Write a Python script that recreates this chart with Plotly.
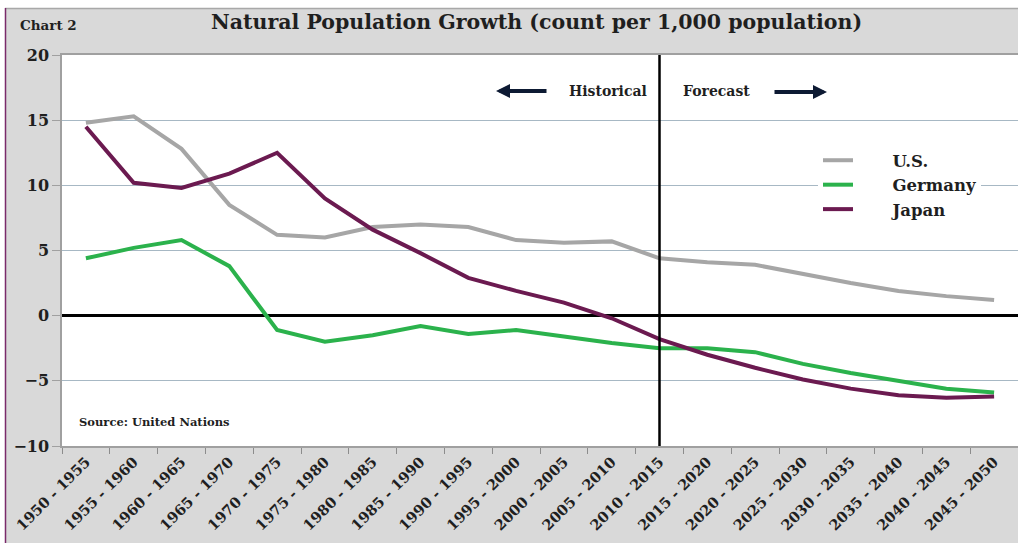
import plotly.graph_objects as go

periods = ["1950 - 1955", "1955 - 1960", "1960 - 1965", "1965 - 1970", "1970 - 1975",
           "1975 - 1980", "1980 - 1985", "1985 - 1990", "1990 - 1995", "1995 - 2000",
           "2000 - 2005", "2005 - 2010", "2010 - 2015", "2015 - 2020", "2020 - 2025",
           "2025 - 2030", "2030 - 2035", "2035 - 2040", "2040 - 2045", "2045 - 2050"]

us = [14.8, 15.3, 12.8, 8.5, 6.2, 6.0, 6.8, 7.0, 6.8, 5.8,
      5.6, 5.7, 4.4, 4.1, 3.9, 3.2, 2.5, 1.9, 1.5, 1.2]
germany = [4.4, 5.2, 5.8, 3.8, -1.1, -2.0, -1.5, -0.8, -1.4, -1.1,
           -1.6, -2.1, -2.5, -2.5, -2.8, -3.7, -4.4, -5.0, -5.6, -5.9]
japan = [14.5, 10.2, 9.8, 10.9, 12.5, 9.0, 6.6, 4.8, 2.9, 1.9,
         1.0, -0.2, -1.8, -3.0, -4.0, -4.9, -5.6, -6.1, -6.3, -6.2]

y_ticks = [-10, -5, 0, 5, 10, 15, 20]
forecast_start = "2010 - 2015"

FONT = "DejaVu Serif"
TXT = "#1f1f1f"
W, H = 1018, 543
L, R, T, B = 62, 0, 55, 97
pw, ph = W - L - R, H - T - B

def px_x(p):
    return (p - L) / pw

def px_y(p):
    return (H - B - p) / ph

fig = go.Figure()
series = [("U.S.", us, "#a6a6a6"), ("Germany", germany, "#2bb24c"), ("Japan", japan, "#6b1a50")]
for name, vals, col in series:
    fig.add_trace(go.Scatter(x=periods, y=vals, name="\u00a0" * 6 + name, mode="lines",
                             legendgroup=name,
                             line=dict(color=col, width=4)))

shapes = [
    dict(type="rect", xref="paper", yref="paper", x0=px_x(-5), x1=px_x(W + 5),
         y0=px_y(8), y1=px_y(-5), fillcolor="white", line=dict(width=0), layer="below"),
    dict(type="rect", xref="paper", yref="paper", x0=px_x(-5), x1=px_x(5),
         y0=px_y(H + 5), y1=px_y(-5), fillcolor="white", line=dict(width=0), layer="below"),
    dict(type="line", xref="paper", yref="paper", x0=px_x(5), x1=px_x(W + 5),
         y0=px_y(8.5), y1=px_y(8.5), line=dict(color="#a8a8a8", width=1.5)),
    dict(type="line", xref="paper", yref="paper", x0=px_x(5.5), x1=px_x(5.5),
         y0=px_y(8), y1=px_y(H + 5), line=dict(color="#7a2a6a", width=1.5)),
    dict(type="line", xref="x", yref="paper", x0=forecast_start, x1=forecast_start,
         y0=0, y1=1, line=dict(color="black", width=2.5)),
]

annotations = [
    dict(text="Natural Population Growth (count per 1,000 population)", xref="paper", yref="paper",
         x=px_x(536), y=px_y(22), showarrow=False,
         font=dict(family=FONT, size=20.5, color=TXT, weight="bold"),
         xanchor="center", yanchor="middle"),
    dict(text="Chart 2", xref="paper", yref="paper", x=px_x(18), y=px_y(25),
         showarrow=False, font=dict(family=FONT, size=13.5, color=TXT, weight="bold"),
         xanchor="left", yanchor="middle"),
    dict(text="Historical", xref="paper", yref="paper", x=px_x(608), y=px_y(91),
         showarrow=False, font=dict(family=FONT, size=14, color=TXT, weight="bold"),
         xanchor="center", yanchor="middle"),
    dict(text="Forecast", xref="paper", yref="paper", x=px_x(716), y=px_y(91),
         showarrow=False, font=dict(family=FONT, size=14, color=TXT, weight="bold"),
         xanchor="center", yanchor="middle"),
    dict(text="", xref="paper", yref="paper", x=px_x(496), y=px_y(91),
         ax=52, ay=0, axref="pixel", ayref="pixel",
         showarrow=True, arrowhead=2, arrowsize=0.7, arrowwidth=4, arrowcolor="#0d1a33"),
    dict(text="", xref="paper", yref="paper", x=px_x(827), y=px_y(92),
         ax=-54, ay=0, axref="pixel", ayref="pixel",
         showarrow=True, arrowhead=2, arrowsize=0.7, arrowwidth=4, arrowcolor="#0d1a33"),
    dict(text="Source: United Nations", xref="paper", yref="paper", x=px_x(77), y=px_y(422),
         showarrow=False, font=dict(family=FONT, size=11.5, color=TXT, weight="bold"),
         xanchor="left", yanchor="middle"),
]

fig.update_layout(
    width=W, height=H,
    margin=dict(l=L, r=R, t=T, b=B, pad=0),
    paper_bgcolor="#d9d9d9",
    plot_bgcolor="white",
    shapes=shapes,
    annotations=annotations,
    showlegend=True,
    legend=dict(x=px_x(818), y=px_y(143), xanchor="left", yanchor="top",
                bgcolor="white", font=dict(family=FONT, size=16.5, color=TXT, weight="bold"),
                itemwidth=30, tracegroupgap=2, borderwidth=0, traceorder="normal"),
    font=dict(family=FONT, color=TXT),
)

fig.update_xaxes(
    type="category", range=[-0.5, len(periods) - 0.5],
    tickangle=-45, tickfont=dict(family=FONT, size=14.5, color=TXT, weight="bold"),
    ticks="outside", ticklen=6, tickcolor="#8c8c8c", tickson="boundaries",
    showline=True, linecolor="#a0a0a0", linewidth=1.5, showgrid=False, mirror=True,
)
fig.update_yaxes(
    range=[-10, 20], tickvals=y_ticks,
    tickfont=dict(family=FONT, size=16, color=TXT, weight="bold"),
    ticks="outside", ticklen=8, tickcolor="#a0a0a0",
    showline=True, linecolor="#a0a0a0", linewidth=1.5,
    showgrid=True, gridcolor="#a7b8c4", gridwidth=1,
    zeroline=True, zerolinecolor="black", zerolinewidth=2.5,
)

fig.write_html("out.html")
